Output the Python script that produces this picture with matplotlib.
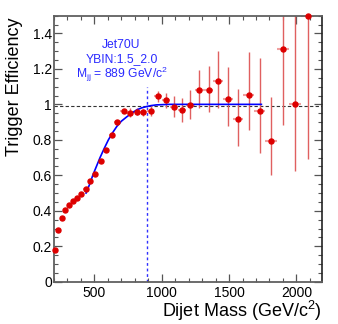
import numpy as np
import matplotlib
matplotlib.use('Agg')
import matplotlib.pyplot as plt
from matplotlib.ticker import MultipleLocator

plt.rcParams['font.family'] = ['Liberation Sans', 'DejaVu Sans']
plt.rcParams['mathtext.fontset'] = 'custom'
plt.rcParams['mathtext.rm'] = 'Liberation Sans'
plt.rcParams['mathtext.it'] = 'Liberation Sans:italic'

# dijet mass bins (GeV)
bin_edges = [197, 220, 244, 270, 296, 325, 354, 386, 419, 453, 489, 526, 565,
             606, 649, 693, 740, 788, 838, 890, 944, 1000, 1058, 1118, 1181,
             1246, 1313, 1383, 1455, 1530, 1607, 1687, 1770, 1856, 1945, 2037, 2132]

eff = [0.179, 0.292, 0.361, 0.403, 0.433, 0.456, 0.474, 0.495, 0.523, 0.567,
       0.608, 0.683, 0.744, 0.826, 0.900, 0.960, 0.952, 0.958, 0.956, 0.964,
       1.045, 1.022, 0.985, 0.968, 0.999, 1.081, 1.081, 1.131, 1.032, 0.915,
       1.052, 0.960, 0.791, 1.312, 1.002, 1.500]

err_lo = [0.005, 0.005, 0.005, 0.005, 0.005, 0.005, 0.005, 0.005, 0.005, 0.005,
          0.01, 0.01, 0.01, 0.01, 0.01, 0.01, 0.025, 0.02, 0.02, 0.03,
          0.03, 0.04, 0.056, 0.07, 0.079, 0.103, 0.122, 0.149, 0.156, 0.147,
          0.196, 0.232, 0.192, 0.431, 0.38, 0.81]

err_hi = [0.005, 0.005, 0.005, 0.005, 0.005, 0.005, 0.005, 0.005, 0.005, 0.005,
          0.01, 0.01, 0.01, 0.01, 0.01, 0.01, 0.025, 0.02, 0.02, 0.03,
          0.03, 0.04, 0.06, 0.068, 0.083, 0.115, 0.137, 0.171, 0.181, 0.171,
          0.245, 0.303, 0.252, 0.5, 0.6, 0.8]

# fitted turn-on curve
fit_mass = [438, 465, 488, 515, 542, 572, 604, 635, 666, 700, 741, 780, 815,
            850, 889, 920, 960, 1050, 1740]
fit_eff = [0.50, 0.55, 0.60, 0.65, 0.70, 0.75, 0.80, 0.84, 0.875, 0.905, 0.93,
           0.952, 0.969, 0.98, 0.988, 0.993, 0.997, 1.0, 1.0]

m_99 = 889
eff_99 = 0.99

edges = np.array(bin_edges, dtype=float)
mass = (edges[:-1] + edges[1:]) / 2
eff = np.array(eff)
err_lo = np.array(err_lo)
err_hi = np.array(err_hi)

fig = plt.figure(figsize=(3.38, 3.24), dpi=100)
ax = fig.add_axes([54 / 338, 1 - 281.7 / 324, 267.7 / 338, 266 / 324])

ax.axhline(eff_99, color='#333333', ls=(0, (3, 2)), lw=0.8, zorder=1)
ax.plot([m_99, m_99], [0, 1.1], color='#3030ff', ls=(0, (2, 2)), lw=1, zorder=1)

ax.hlines(eff, edges[:-1], edges[1:], color='#f0a0a0', lw=1.5, zorder=2)
ax.vlines(mass, eff - err_lo, eff + err_hi, color='#e06060', lw=1, zorder=2)
ax.plot(fit_mass, fit_eff, color='#0000ff', lw=1.2, zorder=3)
ax.plot(mass, eff, 'o', color='#dd0000', ms=3.6, mec='#dd0000', clip_on=False, zorder=5)

ax.set_xlim(200, 2188)
ax.set_ylim(0, 1.5)
ax.set_xticks([500, 1000, 1500, 2000])
ax.xaxis.set_minor_locator(MultipleLocator(100))
yt = [0, 0.2, 0.4, 0.6, 0.8, 1.0, 1.2, 1.4]
ax.set_yticks(yt)
ax.set_yticklabels(['0', '0.2', '0.4', '0.6', '0.8', '1', '1.2', '1.4'])
ax.yaxis.set_minor_locator(MultipleLocator(0.05))

ax.tick_params(which='both', direction='in', top=True, right=True,
               labelsize=10, color='#555555')
ax.tick_params(which='major', length=5.8, width=0.9)
ax.tick_params(which='minor', length=3, width=0.8)
ax.tick_params(axis='y', pad=1.5)
ax.tick_params(axis='x', pad=3)

for s in ['left', 'bottom', 'top']:
    ax.spines[s].set_color('#606060')
    ax.spines[s].set_linewidth(1.3)
ax.spines['right'].set_color('#222222')
ax.spines['right'].set_linewidth(1.2)

fig.text(15 / 338, 1 - 17 / 324, 'Trigger Efficiency', rotation=90,
         ha='center', va='top', fontsize=13)
fig.text(322 / 338, 1 - 317 / 324, r'Dijet Mass (GeV/c$^{2}$)',
         ha='right', va='baseline', fontsize=13)

blue = '#2a2aff'
fig.text(121.5 / 338, 1 - 47.5 / 324, 'Jet70U', color=blue, ha='center',
         va='baseline', fontsize=8.7)
fig.text(121.5 / 338, 1 - 62 / 324, 'YBIN:1.5_2.0', color=blue, ha='center',
         va='baseline', fontsize=8.7)
fig.text(121.5 / 338, 1 - 77.5 / 324, r'M$_{\mathrm{jj}}$ = 889 GeV/c$^{2}$', color=blue,
         ha='center', va='baseline', fontsize=8.7)

fig.savefig('out.png', dpi=100)
